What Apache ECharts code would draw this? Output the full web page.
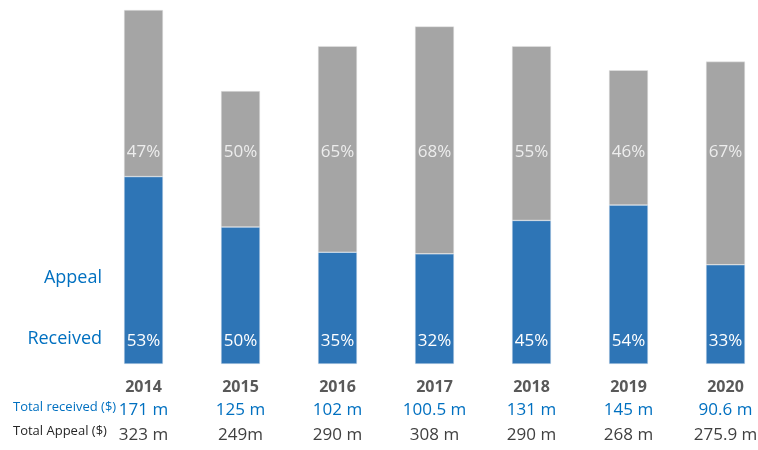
<!DOCTYPE html>
<html lang="en">
<head>
    <meta charset="UTF-8">
    <title>Appeal vs received</title>
    <style>
        * { margin: 0; padding: 0; }
        body { background: #fff; }
        .mychart { width: 758px; height: 450px; }
    </style>
</head>
<body>
    <div class="mychart"></div>
</body>
<script src="https://cdn.jsdelivr.net/npm/echarts@6/dist/echarts.min.js"></script>
<script>
    // data (millions $)
    const years = ['2014', '2015', '2016', '2017', '2018', '2019', '2020']
    const received = [171, 125, 102, 100.5, 131, 145, 90.6]
    const appeal = [323, 249, 290, 308, 290, 268, 275.9]
    const receivedText = ['171 m', '125 m', '102 m', '100.5 m', '131 m', '145 m', '90.6 m']
    const appealText = ['323 m', '249m', '290 m', '308 m', '290 m', '268 m', '275.9 m']
    const receivedPct = ['53%', '50%', '35%', '32%', '45%', '54%', '33%']
    const gapPct = ['47%', '50%', '65%', '68%', '55%', '46%', '67%']

    // gray part = what is still missing from the appeal
    const gap = appeal.map((a, i) => +(a - received[i]).toFixed(1))

    const font = 'Open Sans'
    const blue = '#2e75b6'
    const textBlue = '#0070c0'

    const myChart = echarts.init(document.querySelector('.mychart'))

    const config = {
        animation: false,
        textStyle: { fontFamily: font },
        // grid runs a bit past the right edge so the last bar sits at the border
        grid: { left: 95, width: 679, top: 10, bottom: 86, outerBoundsMode: 'none', containLabel: false },
        xAxis: {
            type: 'category',
            data: years,
            axisLine: { show: false },
            axisTick: { show: false },
            axisLabel: {
                margin: 12,
                interval: 0,
                formatter: (v, i) => `{y|${v}}\n{r|${receivedText[i]}}\n{a|${appealText[i]}}`,
                rich: {
                    y: { fontSize: 16, fontWeight: 'bold', color: '#595959', lineHeight: 22, fontFamily: font },
                    r: { fontSize: 17, color: textBlue, lineHeight: 24, fontFamily: font },
                    a: { fontSize: 17, color: '#404040', lineHeight: 26, fontFamily: font }
                }
            }
        },
        yAxis: {
            type: 'value',
            min: 0,
            max: 323,
            show: false,
            splitLine: { show: false }
        },
        series: [{
            name: 'Received',
            type: 'bar',
            stack: 'total',
            barWidth: 39,
            data: received,
            itemStyle: { color: blue, borderColor: '#dde6f0', borderWidth: 0.5 },
            label: {
                show: true,
                position: 'insideBottom',
                distance: 14,
                color: '#fff',
                fontSize: 17,
                fontFamily: font,
                formatter: p => receivedPct[p.dataIndex]
            }
        }, {
            name: 'Appeal',
            type: 'bar',
            stack: 'total',
            barWidth: 39,
            data: gap,
            itemStyle: { color: '#a5a5a5', borderColor: '#e6e6e6', borderWidth: 0.5 }
        }, {
            // invisible points that carry the gray percentages at one level
            type: 'scatter',
            symbolSize: 0,
            silent: true,
            data: years.map(() => 193.5),
            label: {
                show: true,
                position: 'inside',
                color: '#fff',
                fontSize: 17,
                fontFamily: font,
                formatter: p => gapPct[p.dataIndex]
            }
        }],
        graphic: [
            { type: 'text', right: 656, top: 269, style: { text: 'Appeal', fill: textBlue, fontSize: 18, fontFamily: font, textAlign: 'right' } },
            { type: 'text', right: 656, top: 330, style: { text: 'Received', fill: textBlue, fontSize: 18, fontFamily: font, textAlign: 'right' } },
            { type: 'text', left: 13, top: 401, style: { text: 'Total received ($)', fill: textBlue, fontSize: 13, fontFamily: font } },
            { type: 'text', left: 13, top: 425, style: { text: 'Total Appeal ($)', fill: '#262626', fontSize: 13, fontFamily: font } }
        ]
    }

    myChart.setOption(config)
</script>
</html>
